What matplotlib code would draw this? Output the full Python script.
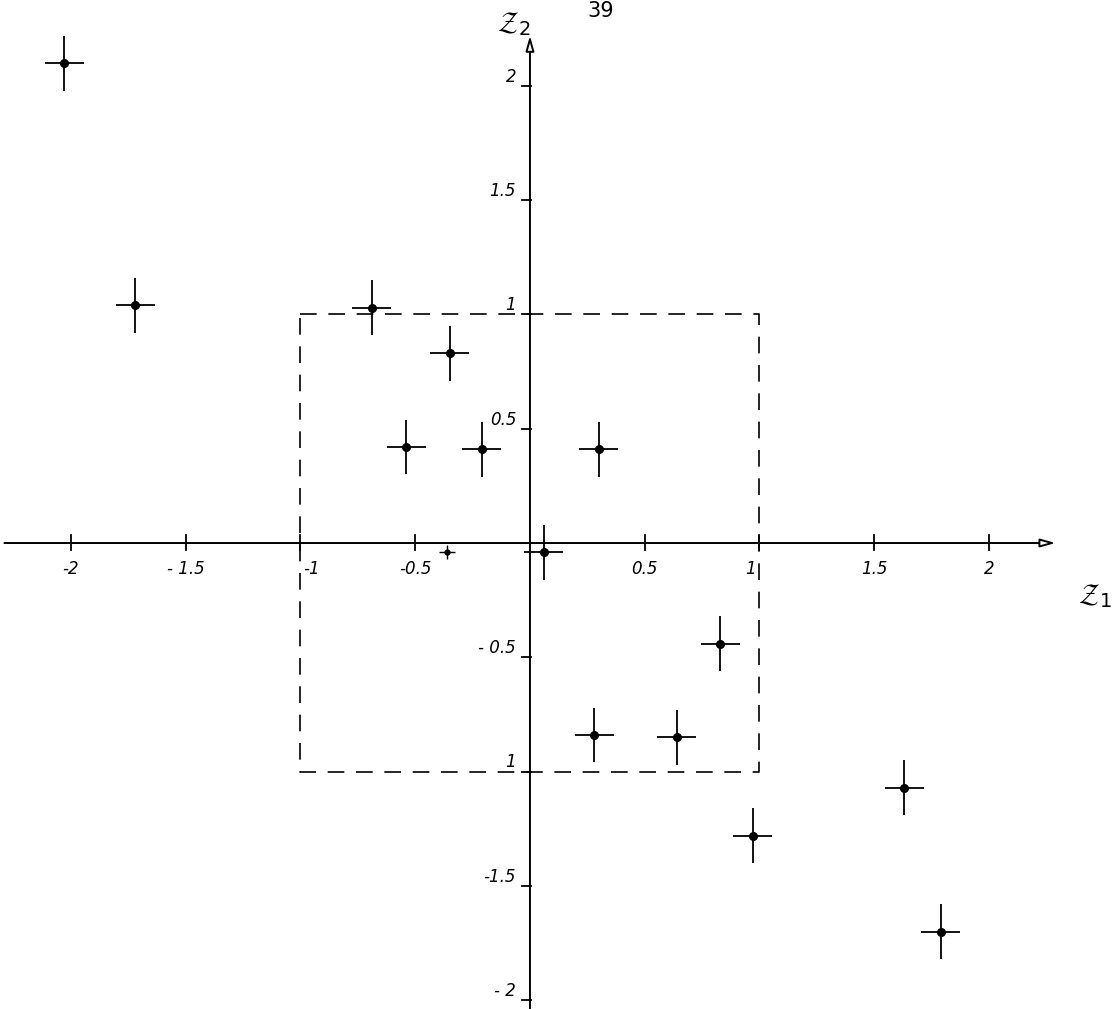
import numpy as np
import matplotlib.pyplot as plt

# coordonnées (z1, z2) des individus
z1 = [-2.03, -1.72, -0.69, -0.35, -0.54, -0.21, 0.30, 0.06,
      0.83, 0.28, 0.64, 0.97, 1.63, 1.79]
z2 = [2.10, 1.04, 1.03, 0.83, 0.42, 0.41, 0.41, -0.04,
      -0.44, -0.84, -0.85, -1.28, -1.07, -1.70]

# point à peine marqué près de l'axe
z1_faible = [-0.36]
z2_faible = [-0.04]

xticks = [-2, -1.5, -1, -0.5, 0.5, 1, 1.5, 2]
xlabels = ['-2', '- 1.5', '-1', '-0.5', '0.5', '1', '1.5', '2']
yticks = [2, 1.5, 1, 0.5, -0.5, -1, -1.5, -2]
ylabels = ['2', '1.5', '1', '0.5', '- 0.5', '1', '-1.5', '- 2']

# carré de référence |z1| <= 1, |z2| <= 1
carre_x = [-1, 1, 1, -1, -1]
carre_y = [1, 1, -1, -1, 1]

fig = plt.figure(figsize=(11.15, 10.09), dpi=100)
ax = fig.add_axes([0, 0, 1, 1])
ax.set_xlim(-2.309, 2.549)
ax.set_ylim(-2.039, 2.376)
ax.axis('off')

police = dict(fontsize=12, style='italic', family='DejaVu Sans', color='black')

# axes avec flèches
fleche = dict(arrowstyle='-|>,head_length=0.9,head_width=0.25',
              fc='white', ec='black', lw=1.4, shrinkA=0, shrinkB=0)
ax.annotate('', xy=(2.29, 0), xytext=(-2.29, 0), arrowprops=fleche)
ax.annotate('', xy=(0, 2.22), xytext=(0, -2.04), arrowprops=fleche)

# graduations
for x, lab in zip(xticks, xlabels):
    ax.plot([x, x], [-0.03, 0.035], color='black', lw=1.3)
    dx = 0.05 if x == -1 else (-0.04 if x == 1 else 0)
    ax.text(x + dx, -0.115, lab, ha='center', va='center', **police)
for y, lab in zip(yticks, ylabels):
    ax.plot([-0.035, 0.005], [y, y], color='black', lw=1.3)
    ax.text(-0.06, y + 0.04, lab, ha='right', va='center', **police)

ax.text(2.46, -0.23, r'$\mathcal{Z}_1$', fontsize=20, ha='center', va='center')
ax.text(-0.07, 2.27, r'$\mathcal{Z}_2$', fontsize=20, ha='center', va='center')
ax.text(0.31, 2.33, '39', fontsize=15, ha='center', va='center', family='DejaVu Sans')

# carré en tirets
ax.plot(carre_x, carre_y, color='black', lw=1.2, dashes=(10, 7))

# points avec leurs croix
ax.errorbar(z1, z2, xerr=0.085, yerr=0.12, fmt='o', color='black',
            ms=5.5, elinewidth=1.3, capsize=0)
ax.errorbar(z1_faible, z2_faible, xerr=0.035, yerr=0.03, fmt='o', color='black',
            ms=3.5, elinewidth=1.0, capsize=0)

fig.savefig('out.png', dpi=100)
